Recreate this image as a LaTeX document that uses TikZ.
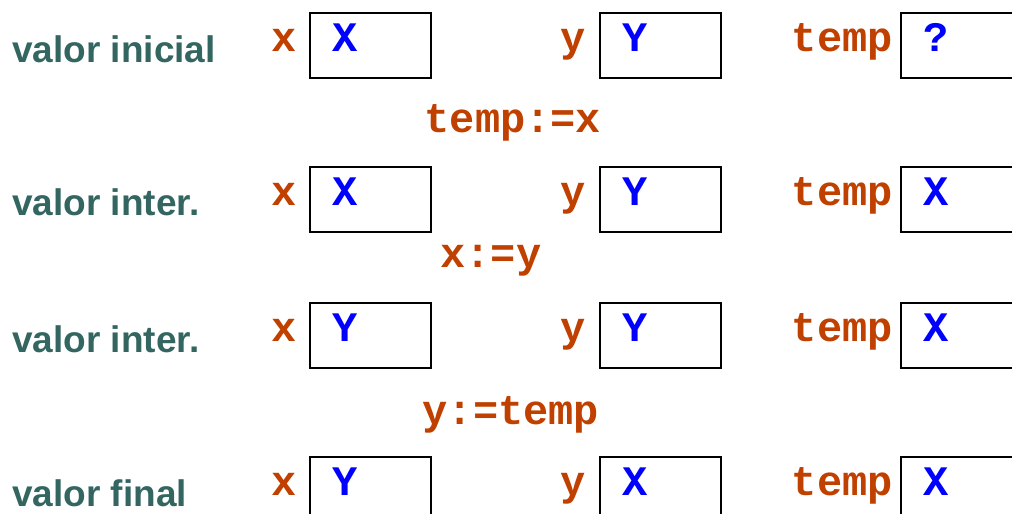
\documentclass[tikz,border=0pt]{standalone}
\usepackage{fontspec}
\setmainfont{Liberation Sans}
\newfontfamily\codefont{Liberation Mono}
\definecolor{rowgreen}{HTML}{336660}
\definecolor{codeorange}{HTML}{C04000}
\begin{document}
\begin{tikzpicture}[x=1pt, y=-1pt,
    rowlbl/.style={anchor=base west, text=rowgreen, inner sep=0,
        font=\fontsize{37}{43}\selectfont\bfseries},
    varname/.style={anchor=base east, text=codeorange, inner sep=0,
        font=\codefont\fontsize{42}{48}\selectfont\bfseries},
    valtext/.style={anchor=base west, text=blue, inner sep=0,
        font=\codefont\fontsize{42}{48}\selectfont\bfseries},
    stmt/.style={anchor=base, text=codeorange, inner sep=0,
        font=\codefont\fontsize{42}{48}\selectfont\bfseries},
    cellbox/.style={draw, line width=1.5pt, anchor=north west, inner sep=0,
        minimum width=121pt, minimum height=65pt}]
    \useasboundingbox (0,0) rectangle (1012,514);

    % Row 1
    \node[rowlbl] (r1) at (12,62) {valor inicial};
    \node[cellbox] (bx1) at (309,12) {};
    \node[cellbox] (by1) at (599,12) {};
    \node[cellbox] (bt1) at (900,12) {};
    \node[varname] at ([shift={(-12,39)}]bx1.north west) {x};
    \node[varname] at ([shift={(-13,39)}]by1.north west) {y};
    \node[varname] at ([shift={(-7,39)}]bt1.north west) {temp};
    \node[valtext] (vx1) at ([shift={(23,39)}]bx1.north west) {X};
    \node[valtext] (vy1) at ([shift={(23,39)}]by1.north west) {Y};
    \node[valtext] (vt1) at ([shift={(23,39)}]bt1.north west) {?};

    \node[stmt] (s1) at (513,132) {temp:=x};

    % Row 2
    \node[rowlbl] (r2) at (12,215) {valor inter.};
    \node[cellbox] (bx2) at (309,166) {};
    \node[cellbox] (by2) at (599,166) {};
    \node[cellbox] (bt2) at (900,166) {};
    \node[varname] at ([shift={(-12,39)}]bx2.north west) {x};
    \node[varname] at ([shift={(-13,39)}]by2.north west) {y};
    \node[varname] at ([shift={(-7,39)}]bt2.north west) {temp};
    \node[valtext] (vx2) at ([shift={(23,39)}]bx2.north west) {X};
    \node[valtext] (vy2) at ([shift={(23,39)}]by2.north west) {Y};
    \node[valtext] (vt2) at ([shift={(23,39)}]bt2.north west) {X};

    \node[stmt] (s2) at (491,267) {x:=y};

    % Row 3
    \node[rowlbl] (r3) at (12,352) {valor inter.};
    \node[cellbox] (bx3) at (309,302) {};
    \node[cellbox] (by3) at (599,302) {};
    \node[cellbox] (bt3) at (900,302) {};
    \node[varname] at ([shift={(-12,39)}]bx3.north west) {x};
    \node[varname] at ([shift={(-13,39)}]by3.north west) {y};
    \node[varname] at ([shift={(-7,39)}]bt3.north west) {temp};
    \node[valtext] (vx3) at ([shift={(23,39)}]bx3.north west) {Y};
    \node[valtext] (vy3) at ([shift={(23,39)}]by3.north west) {Y};
    \node[valtext] (vt3) at ([shift={(23,39)}]bt3.north west) {X};

    \node[stmt] (s3) at (511,424) {y:=temp};

    % Row 4
    \node[rowlbl] (r4) at (12,506) {valor final};
    \node[cellbox] (bx4) at (309,456) {};
    \node[cellbox] (by4) at (599,456) {};
    \node[cellbox] (bt4) at (900,456) {};
    \node[varname] at ([shift={(-12,39)}]bx4.north west) {x};
    \node[varname] at ([shift={(-13,39)}]by4.north west) {y};
    \node[varname] at ([shift={(-7,39)}]bt4.north west) {temp};
    \node[valtext] (vx4) at ([shift={(23,39)}]bx4.north west) {Y};
    \node[valtext] (vy4) at ([shift={(23,39)}]by4.north west) {X};
    \node[valtext] (vt4) at ([shift={(23,39)}]bt4.north west) {X};
\end{tikzpicture}
\end{document}
